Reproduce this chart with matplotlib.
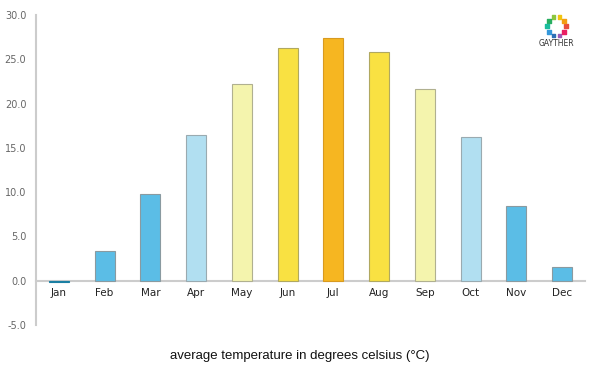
import numpy as np
import matplotlib
matplotlib.use('Agg')
import matplotlib.pyplot as plt

months = ['Jan', 'Feb', 'Mar', 'Apr', 'May', 'Jun', 'Jul', 'Aug', 'Sep', 'Oct', 'Nov', 'Dec']
temps = [-0.2, 3.4, 9.8, 16.4, 22.2, 26.3, 27.4, 25.8, 21.7, 16.2, 8.4, 1.5]
colors = ['#1b7fa3', '#5bbde6', '#5bbde6', '#b1dff1', '#f4f4ad', '#f9e142',
          '#f6b621', '#f9e142', '#f4f4ad', '#b1dff1', '#5bbde6', '#5bbde6']
edges = ['#1b7fa3', '#8a9aa0', '#8a9aa0', '#9aaab0', '#b0b090', '#b0a860',
         '#d89a20', '#b0a860', '#b0b090', '#9aaab0', '#8a9aa0', '#8a9aa0']
yticks = [-5, 0, 5, 10, 15, 20, 25, 30]

fig = plt.figure(figsize=(6, 3.75), dpi=100)
ax = fig.add_axes([0.06, 0.1333, 0.915, 0.8267])

x = np.arange(len(months))
ax.bar(x, temps, width=0.44, color=colors, edgecolor=edges, linewidth=0.8, zorder=3)

ax.set_xlim(-0.5, 11.5)
ax.set_ylim(-5, 30)
ax.set_yticks(yticks)
ax.set_yticklabels(['%.1f' % v for v in yticks])
ax.set_xticks(x)
ax.set_xticklabels(months)
ax.tick_params(axis='y', length=0, pad=7, labelsize=7, labelcolor='#666666')
ax.tick_params(axis='x', length=0, pad=5, labelsize=7.5, labelcolor='#222222')
for lbl in ax.get_xticklabels():
    lbl.set_fontweight('semibold')

for s in ['top', 'right']:
    ax.spines[s].set_visible(False)
ax.spines['bottom'].set_position(('data', 0))
ax.spines['bottom'].set_color('#cccccc')
ax.spines['bottom'].set_linewidth(1.5)
ax.spines['bottom'].set_zorder(2)
ax.spines['left'].set_color('#cccccc')
ax.spines['left'].set_linewidth(1.5)

fig.text(0.5, 0.05, 'average temperature in degrees celsius (\u00b0C)',
         ha='center', va='center', fontsize=9.5, family='Liberation Sans', color='#111111')

# logo
logo_cols = ['#e84c3d', '#f39c12', '#f1c40f', '#8cc63f', '#27ae60', '#1abc9c',
             '#3498db', '#2c6fb5', '#9b59b6', '#e91e63']
lax = fig.add_axes([0.9, 0.886, 0.055, 0.088])
ang = np.linspace(0, 2 * np.pi, len(logo_cols), endpoint=False)
lax.scatter(np.cos(ang), np.sin(ang), s=8, c=logo_cols, marker='s')
lax.set_xlim(-1.7, 1.7)
lax.set_ylim(-1.7, 1.7)
lax.axis('off')
fig.text(0.928, 0.883, 'GAYTHER', ha='center', va='center', fontsize=5.5, color='#333333')

fig.savefig('out.png', dpi=100)
